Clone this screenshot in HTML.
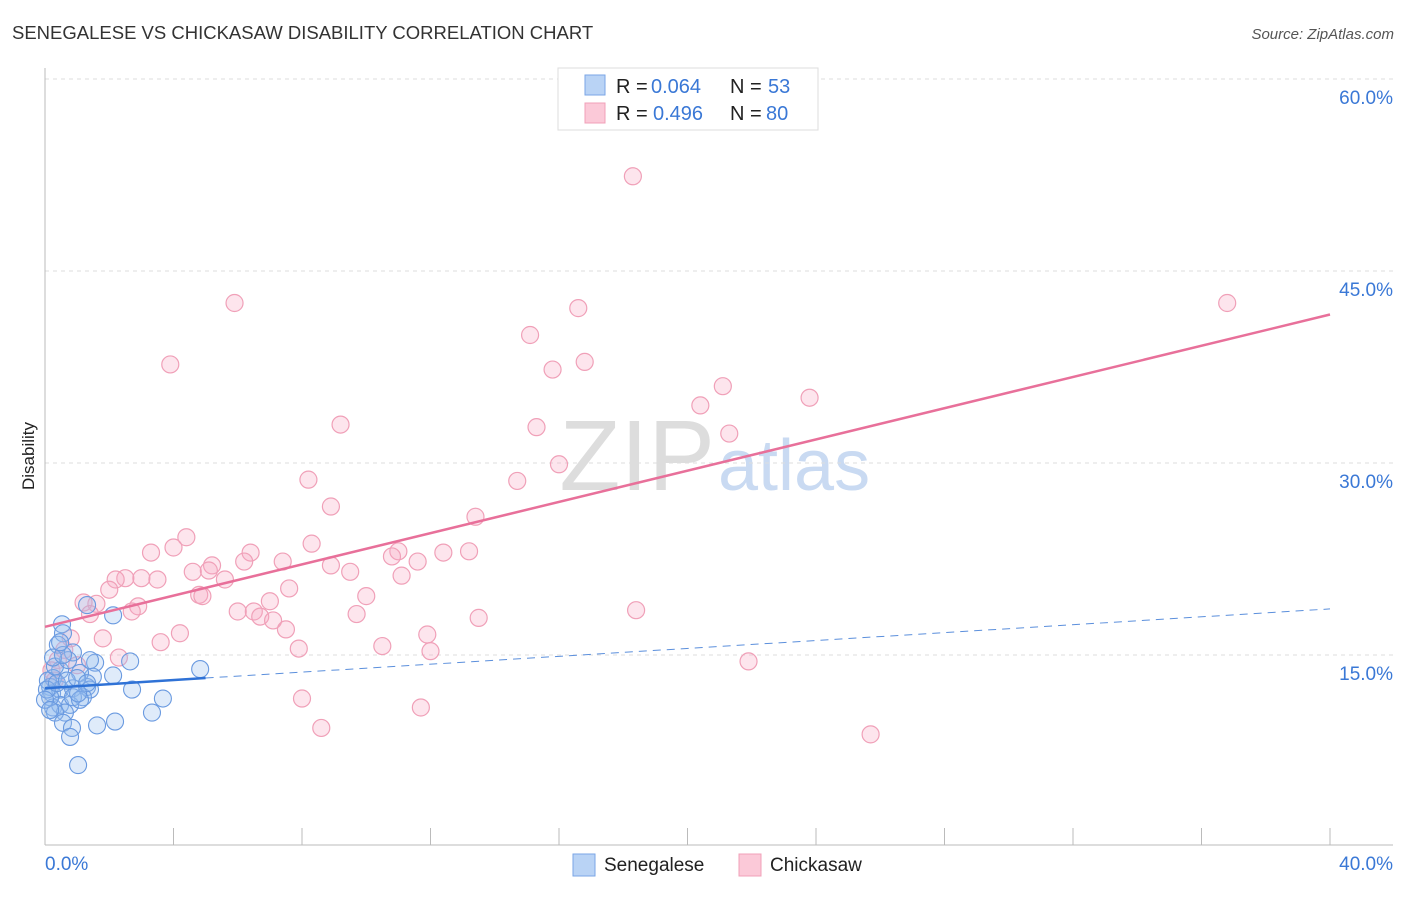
<!DOCTYPE html>
<html><head><meta charset="utf-8"><style>
body{margin:0;background:#fff;font-family:"Liberation Sans",sans-serif}
svg text{font-family:"Liberation Sans",sans-serif}
</style></head><body>
<svg id="c" width="1406" height="892" xmlns="http://www.w3.org/2000/svg">
<text x="12" y="39" font-size="18.5" fill="#333">SENEGALESE VS CHICKASAW DISABILITY CORRELATION CHART</text>
<text x="1394" y="39" font-size="15" fill="#555" font-style="italic" text-anchor="end">Source: ZipAtlas.com</text>
<text x="715" y="490" font-size="100" font-family="Liberation Serif" fill="#ddd" text-anchor="end">ZIP</text>
<text x="718" y="490" font-size="72" fill="#c9daf2">atlas</text>
<text transform="translate(34,456) rotate(-90)" font-size="17" fill="#222" text-anchor="middle">Disability</text>
<g id="grid"></g><g id="pts"></g><g id="lines"></g>
<g>
<rect x="558" y="68" width="260" height="62" fill="#fff" stroke="#ddd"/>
<rect x="585" y="75" width="20" height="20" fill="#b9d3f5" stroke="#7aa6e6"/>
<rect x="585" y="103" width="20" height="20" fill="#fbc9d8" stroke="#f0a0b8"/>
<text x="616" y="93" font-size="20" fill="#222">R =</text>
<text x="651" y="93" font-size="20" fill="#3a78d6">0.064</text>
<text x="730" y="93" font-size="20" fill="#222">N =</text>
<text x="768" y="93" font-size="20" fill="#3a78d6">53</text>
<text x="616" y="120" font-size="20" fill="#222">R =</text>
<text x="653" y="120" font-size="20" fill="#3a78d6">0.496</text>
<text x="730" y="120" font-size="20" fill="#222">N =</text>
<text x="766" y="120" font-size="20" fill="#3a78d6">80</text>
</g>
<g>
<rect x="573" y="854" width="22" height="22" fill="#b9d3f5" stroke="#7aa6e6"/>
<text x="604" y="871" font-size="19" fill="#222">Senegalese</text>
<rect x="739" y="854" width="22" height="22" fill="#fbc9d8" stroke="#f0a0b8"/>
<text x="770" y="871" font-size="19" fill="#222">Chickasaw</text>
</g>
</svg>
<script>
const yTicks=[15,30,45,60];
const yTickLabels=["15.0%","30.0%","45.0%","60.0%"];
const xTicks=[0,4,8,12,16,20,24,28,32,36,40];
const blueX=[1.31,2.12,0.53,0.56,0.40,0.87,1.56,2.65,4.83,2.12,1.49,1.09,0.47,0.25,0.16,0.22,0.47,0.87,1.31,1.40,1.18,2.71,3.67,3.33,0.25,0.47,0.78,0.62,0.31,0.56,0.84,0.78,1.62,2.18,1.03,0.09,0.16,0.06,0.37,0.68,1.00,1.31,0.87,1.09,0.31,0.72,0.25,0.56,1.03,0.47,0.0,0.16,1.4];
const blueY=[18.9,18.1,17.4,16.7,15.8,15.2,14.4,14.5,13.9,13.4,13.3,13.6,13.8,13.2,12.5,12.0,12.3,12.4,12.5,12.3,11.7,12.3,11.6,10.5,10.9,11.1,11.1,10.5,10.5,9.7,9.3,8.6,9.5,9.8,6.4,13.0,11.7,12.3,12.8,13.0,13.2,12.8,11.7,11.5,14.1,14.6,14.8,15.0,12.0,16.0,11.5,10.7,14.6];
const pinkX=[18.3,5.9,16.6,36.8,15.1,3.9,16.8,15.8,21.1,23.8,20.4,9.2,15.3,21.3,16.0,8.2,14.7,8.9,13.4,4.4,8.3,4.0,3.3,6.4,11.0,12.4,13.2,10.8,6.2,7.4,11.6,8.9,5.2,4.6,5.1,9.5,11.1,5.6,3.0,2.5,3.5,2.2,7.6,2.0,4.8,4.9,10.0,7.0,1.6,2.9,1.2,2.7,6.0,6.5,6.7,18.4,1.4,9.7,7.1,13.5,7.5,4.2,11.9,1.8,3.6,0.8,10.5,7.9,12.0,0.6,2.3,21.9,0.4,8.0,11.7,8.6,25.7,0.3,0.2,1.0];
const pinkY=[52.4,42.5,42.1,42.5,40.0,37.7,37.9,37.3,36.0,35.1,34.5,33.0,32.8,32.3,29.9,28.7,28.6,26.6,25.8,24.2,23.7,23.4,23.0,23.0,23.1,23.0,23.1,22.7,22.3,22.3,22.3,22.0,22.0,21.5,21.6,21.5,21.2,20.9,21.0,21.0,20.9,20.9,20.2,20.1,19.7,19.6,19.6,19.2,19.0,18.8,19.1,18.4,18.4,18.4,18.0,18.5,18.2,18.2,17.7,17.9,17.0,16.7,16.6,16.3,16.0,16.3,15.7,15.5,15.3,15.4,14.8,14.5,14.6,11.6,10.9,9.3,8.8,13.0,13.8,14.2];
const pinkTrend=[[0,17.2],[40,41.6]];
const blueTrendSolid=[[0,12.4],[5,13.2]];
const blueTrendDash=[[5,13.2],[40,18.6]];
const NS="http://www.w3.org/2000/svg";
const X=v=>45+v/40*1285, Y=v=>847-v/60*768;
function mk(t,a,p){const e=document.createElementNS(NS,t);for(const k in a)e.setAttribute(k,a[k]);p.appendChild(e);return e;}
const g=document.getElementById('grid');
yTicks.forEach((t,i)=>{
 const l=mk('line',{x1:45,x2:1393,y1:Y(t),y2:Y(t),stroke:'#ddd','stroke-dasharray':'4,4'},g);
 
 
 const tx=mk('text',{x:1393,y:Y(t)+25,'font-size':19,fill:'#3a78d6','text-anchor':'end'},g);
 tx.textContent=yTickLabels[i];
 
 
});
const ax=mk('line',{x1:45,x2:45,y1:68,y2:845,stroke:'#bbb'},g);


const bx=mk('line',{x1:45,x2:1393,y1:845,y2:845,stroke:'#bbb'},g);


xTicks.forEach(t=>{
 const l=mk('line',{x1:X(t),x2:X(t),y1:828,y2:845,stroke:'#bbb'},g);
 
 
});
const xl0=mk('text',{x:45,y:870,'font-size':19,fill:'#3a78d6'},g);xl0.textContent='0.0%';


const xl1=mk('text',{x:1393,y:870,'font-size':19,fill:'#3a78d6','text-anchor':'end'},g);xl1.textContent='40.0%';


const p=document.getElementById('pts');
pinkX.forEach((v,i)=>{
 const c=mk('circle',{cx:X(v),cy:Y(pinkY[i]),r:8.5,fill:'rgba(248,170,195,0.3)',stroke:'#f0a0b8','stroke-width':1.2},p);
 
 
});
blueX.forEach((v,i)=>{
 const c=mk('circle',{cx:X(v),cy:Y(blueY[i]),r:8.5,fill:'rgba(150,190,240,0.3)',stroke:'#6a9ae0','stroke-width':1.1},p);
 
 
});
const L=document.getElementById('lines');
function line(d,s,w,dash){const l=mk('line',{x1:X(d[0][0]),y1:Y(d[0][1]),x2:X(d[1][0]),y2:Y(d[1][1]),stroke:s,'stroke-width':w},L);if(dash)l.setAttribute('stroke-dasharray',dash);return l;}
const t1=line(pinkTrend,'#e8709a',2.5,null);


const t2=line(blueTrendSolid,'#2f72d6',2.5,null);


const t3=line(blueTrendDash,'#5b8fdc',1,'8,6');


</script>
</body></html>
